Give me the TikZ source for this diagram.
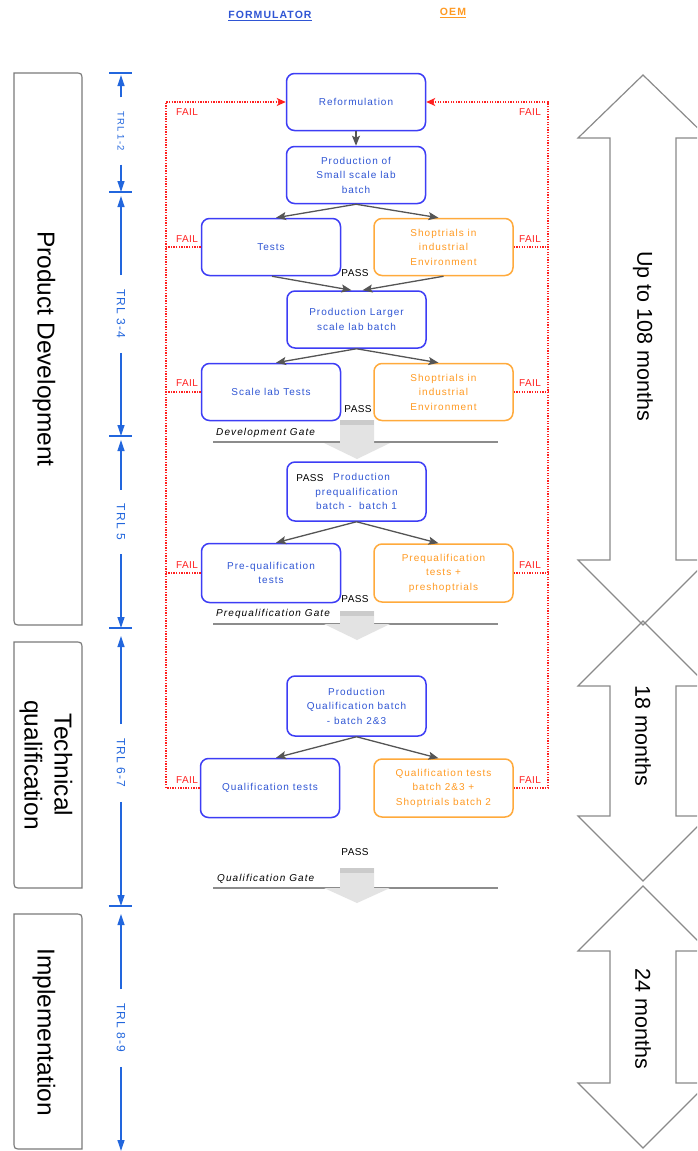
\documentclass[tikz,border=0pt]{standalone}
\usepackage{fontspec}
\setmainfont{Liberation Sans}
\newfontfamily\boxfont[LetterSpace=10]{Liberation Sans}
\newfontfamily\trlfont[LetterSpace=10]{Liberation Sans}
\newfontfamily\gatefont[LetterSpace=11]{Liberation Sans}
\newfontfamily\headfont[LetterSpace=10]{Liberation Sans}
\newfontfamily\tagfont[LetterSpace=4]{Liberation Sans}
\usetikzlibrary{arrows.meta,calc}

\definecolor{fblue}{HTML}{3D3DF5}
\definecolor{ftext}{HTML}{2F55D4}
\definecolor{oborder}{HTML}{FFAA3C}
\definecolor{otext}{HTML}{FF9A22}
\definecolor{failred}{HTML}{FF2020}
\definecolor{trlblue}{HTML}{2266DD}
\definecolor{flowgray}{HTML}{555555}
\definecolor{phasegray}{HTML}{7A7A7A}
\definecolor{spangray}{HTML}{8A8A8A}
\definecolor{gatefill}{HTML}{E3E3E3}
\definecolor{gateband}{HTML}{CBCBCB}
\definecolor{gateline}{HTML}{8C8C8C}

% block arrow below a gate line: top of shaft, base of head, tip
\newcommand\gatearrow[3]{%
  \fill[gatefill] (340,#1) -- (374,#1) -- (374,#2) -- (390,#2) -- (357,#3) -- (324,#2) -- (340,#2) -- cycle;
  \fill[gateband] (340,#1) rectangle (374,{#1+5});}
% double headed duration arrow: top tip, upper head base, lower head base, bottom tip
\newcommand\spanarrow[4]{%
  \draw[span] (643,#1) -- (708,#2) -- (676,#2) -- (676,#3) -- (708,#3) -- (643,#4)
    -- (578,#3) -- (610,#3) -- (610,#2) -- (578,#2) -- cycle;}
% phase panel with two rounded corners: top, bottom
\newcommand\phasepanel[2]{%
  \draw[phase] (14,#1) -- (74,#1) .. controls (82,#1) .. (82,{#1+8}) -- (82,#2)
    -- (22,#2) .. controls (14,#2) .. (14,{#2-8}) -- cycle;}

\tikzset{
  fbox/.style={draw=fblue, line width=1.5pt, rounded corners=8pt, fill=white,
    text=ftext, font=\boxfont\fontsize{10}{14.5}\selectfont, align=center,
    minimum width=139pt, minimum height=57pt, inner sep=2pt},
  obox/.style={fbox, draw=oborder, text=otext},
  flow/.style={draw=flowgray, line width=1.3pt, -{Stealth[length=10pt,width=8pt,inset=2pt]}},
  fail/.style={draw=failred, line width=1.4pt, dash pattern=on 1.3pt off 1.3pt},
  failtip/.style={fail, -{Stealth[length=9pt,width=8pt,inset=2.5pt]}},
  faillabel/.style={text=failred, font=\tagfont\fontsize{10}{11}\selectfont, inner sep=1pt},
  passlabel/.style={text=black, font=\tagfont\fontsize{10}{11}\selectfont, inner sep=1pt},
  trl/.style={text=trlblue, rotate=-90, font=\trlfont\fontsize{12}{13}\selectfont,
    inner xsep=14pt, inner ysep=2pt},
  trlline/.style={draw=trlblue, line width=1.2pt, -{Triangle[length=11pt,width=7pt]}},
  tick/.style={draw=trlblue, line width=1.2pt},
  phase/.style={draw=phasegray, line width=1.2pt},
  phasetext/.style={rotate=-90, align=center, font=\fontsize{24.5}{30}\selectfont},
  span/.style={draw=spangray, line width=1.2pt},
  spantext/.style={rotate=-90, font=\fontsize{21.5}{24}\selectfont},
  gatebar/.style={draw=gateline, line width=1.4pt},
  gatetext/.style={anchor=west, inner sep=0pt, font=\gatefont\itshape\fontsize{10}{12}\selectfont},
  headlabel/.style={font=\headfont\bfseries\fontsize{10.5}{12}\selectfont, inner sep=1pt}
}

\begin{document}
\begin{tikzpicture}[x=1pt,y=-1pt]
\useasboundingbox (0,0) rectangle (697,1151);
\clip (0,0) rectangle (697,1151);
\fill[white] (0,0) rectangle (697,1151);

% column headers
\node[headlabel, text=ftext] (hform) at (270,16) {\underline{FORMULATOR}};
\node[headlabel, text=otext] (hoem) at (453,13) {\underline{OEM}};

% phase panels
\phasepanel{73}{625}
\phasepanel{642}{888}
\phasepanel{914}{1149}
\node[phasetext] (pdev) at (44,349) {Product Development};
\node[phasetext] (ptech) at (46,765) {Technical\\qualification};
\node[phasetext] (pimpl) at (44,1032) {Implementation};

% TRL scale
\coordinate (k0) at (121,73);
\coordinate (k1) at (121,192);
\coordinate (k2) at (121,436);
\coordinate (k3) at (121,628);
\coordinate (k4) at (121,906);
\coordinate (kend) at (121,1151);
\foreach \k in {k0,k1,k2,k3,k4}
  \draw[tick] ([xshift=-12pt]\k) -- ([xshift=11pt]\k);
\node[trl, font=\trlfont\fontsize{9.5}{10}\selectfont] (t12) at (121,131) {TRL 1-2};
\node[trl] (t34) at (121,314) {TRL 3-4};
\node[trl] (t5) at (121,522) {TRL 5};
\node[trl] (t67) at (121,763) {TRL 6-7};
\node[trl] (t89) at (121,1028) {TRL 8-9};
\draw[trlline] (t12.west) -- ([yshift=-2pt]k0);
\draw[trlline] (t12.east) -- (k1);
\draw[trlline] (t34.west) -- ([yshift=-4pt]k1);
\draw[trlline] (t34.east) -- (k2);
\draw[trlline] (t5.west) -- ([yshift=-4pt]k2);
\draw[trlline] (t5.east) -- (k3);
\draw[trlline] (t67.west) -- ([yshift=-8pt]k3);
\draw[trlline] (t67.east) -- (k4);
\draw[trlline] (t89.west) -- ([yshift=-8pt]k4);
\draw[trlline] (t89.east) -- (kend);

% duration arrows
\spanarrow{75}{138}{560}{625}
\spanarrow{621}{686}{816}{881}
\spanarrow{886}{951}{1083}{1148}
\node[spantext] (m108) at (643,336) {Up to 108 months};
\node[spantext] (m18) at (643,736) {18 months};
\node[spantext] (m24) at (643,1019) {24 months};

% gates
\draw[gatebar] (213,442) -- (498,442);
\draw[gatebar] (213,624) -- (498,624);
\draw[gatebar] (213,888) -- (498,888);
\gatearrow{420}{443}{459}
\gatearrow{611}{624}{640}
\gatearrow{868}{888}{903}
\node[gatetext] (gdev) at (216,433) {Development Gate};
\node[gatetext] (gpre) at (216,614) {Prequalification Gate};
\node[gatetext] (gqual) at (217,879) {Qualification Gate};

% process boxes
\node[fbox] (ref) at (356,102) {Reformulation};
\node[fbox] (psmall) at (356,175) {Production of\\Small scale lab\\batch};
\node[fbox] (tests) at (271,247) {Tests};
\node[obox] (shop1) at (443.5,247) {Shoptrials in\\industrial\\Environment};
\node[fbox] (plarge) at (356.5,319.5) {Production Larger\\scale lab batch};
\node[fbox] (stests) at (271,392) {Scale lab Tests};
\node[obox] (shop2) at (443.5,392) {Shoptrials in\\industrial\\Environment};
\node[fbox, minimum height=59pt] (ppre) at (356.5,491.5) {\hspace*{10pt}Production\\prequalification\\batch -\ \ batch 1};
\node[fbox, minimum height=59pt] (pqtests) at (271,573) {Pre-qualification\\tests};
\node[obox, minimum height=58pt] (pqshop) at (443.5,573) {Prequalification\\tests +\\preshoptrials};
\node[fbox, minimum height=60pt] (pqual) at (356.5,706) {Production\\Qualification batch\\- batch 2\&3};
\node[fbox, minimum height=59pt] (qtests) at (270,788) {Qualification tests};
\node[obox, minimum height=58pt] (qshop) at (443.5,788) {Qualification tests\\batch 2\&3 +\\Shoptrials batch 2};

% flow
\draw[flow] (ref) -- (psmall);
\draw[flow] (psmall.south) -- ([xshift=5pt]tests.north);
\draw[flow] (psmall.south) -- ([xshift=-5pt]shop1.north);
\draw[flow] ([xshift=1pt]tests.south) -- ([xshift=-5pt]plarge.north);
\draw[flow] (shop1.south) -- ([xshift=6pt]plarge.north);
\draw[flow] (plarge.south) -- ([xshift=5pt]stests.north);
\draw[flow] (plarge.south) -- ([xshift=-5pt]shop2.north);
\draw[flow] (ppre.south) -- ([xshift=5pt]pqtests.north);
\draw[flow] (ppre.south) -- ([xshift=-5pt]pqshop.north);
\draw[flow] (pqual.south) -- ([xshift=6pt]qtests.north);
\draw[flow] (pqual.south) -- ([xshift=-5pt]qshop.north);

% failure feedback to reformulation
\coordinate (fl) at (166,788);
\coordinate (fr) at (548,788);
\draw[failtip] (qtests.west) -- (fl) |- (ref.west);
\draw[failtip] (qshop.east) -- (fr) |- (ref.east);
\foreach \b in {tests,stests,pqtests}
  \draw[fail] (\b.west) -- (\b.west -| fl);
\foreach \b in {shop1,shop2,pqshop}
  \draw[fail] (\b.east) -- (\b.east -| fr);
\node[faillabel] (f0l) at (187,112) {FAIL};
\node[faillabel] (f0r) at (530,112) {FAIL};
\node[faillabel] (f1l) at (187,239) {FAIL};
\node[faillabel] (f1r) at (530,239) {FAIL};
\node[faillabel] (f2l) at (187,383) {FAIL};
\node[faillabel] (f2r) at (530,383) {FAIL};
\node[faillabel] (f3l) at (187,565) {FAIL};
\node[faillabel] (f3r) at (530,565) {FAIL};
\node[faillabel] (f4l) at (187,780) {FAIL};
\node[faillabel] (f4r) at (530,780) {FAIL};

% pass labels
\node[passlabel] (pass1) at (355,273) {PASS};
\node[passlabel] (pass2) at (358,409) {PASS};
\node[passlabel] (pass3) at (310,478) {PASS};
\node[passlabel] (pass4) at (355,599) {PASS};
\node[passlabel] (pass5) at (355,852) {PASS};
\end{tikzpicture}
\end{document}
